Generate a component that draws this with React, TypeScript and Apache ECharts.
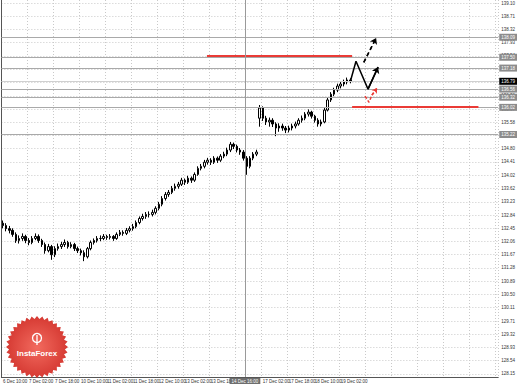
import React, { useEffect, useRef } from 'react';
import * as echarts from 'echarts';

const FONT = 'Liberation Sans';

// x-axis tick labels (every 8th bar)
const timeTickLabels = [
  '6 Dec 10:00', '7 Dec 02:00', '7 Dec 18:00', '10 Dec 10:00', '11 Dec 02:00',
  '11 Dec 18:00', '12 Dec 10:00', '13 Dec 02:00', '13 Dec 18:00', '',
  '17 Dec 02:00', '17 Dec 18:00', '18 Dec 10:00', '19 Dec 02:00',
];
const slotCount = 153;

// y-axis tick labels
const priceTicks = [
  128.15, 128.54, 128.93, 129.32, 129.71, 130.11, 130.5, 130.89, 131.28, 131.67,
  132.06, 132.45, 132.84, 133.23, 133.62, 134.02, 134.41, 134.8, 135.19, 135.58,
  135.97, 136.36, 136.75, 137.15, 137.54, 137.93, 138.32, 138.71, 139.1,
];

const opens = [
  132.60, 132.53, 132.44, 132.39, 132.27, 132.09, 132.15, 132.21, 132.09, 132.03,
  132.15, 132.21, 132.09, 131.97, 131.79, 131.91, 131.67, 131.85, 131.91, 131.97,
  132.03, 131.91, 131.97, 131.85, 131.79, 131.73, 131.61, 131.85, 132.03, 132.09,
  132.15, 132.15, 132.21, 132.18, 132.21, 132.15, 132.27, 132.33, 132.30, 132.39,
  132.44, 132.50, 132.62, 132.74, 132.80, 132.86, 132.86, 132.92, 133.04, 133.16,
  133.33, 133.45, 133.51, 133.63, 133.69, 133.75, 133.87, 133.81, 133.93, 133.87,
  134.04, 134.22, 134.28, 134.40, 134.46, 134.40, 134.52, 134.46, 134.58, 134.64,
  134.76, 134.93, 134.87, 134.76, 134.70, 134.52, 134.28, 134.52, 134.64, 135.70,
  136.00, 135.70, 135.59, 135.64, 135.53, 135.41, 135.47, 135.41, 135.35, 135.41,
  135.47, 135.53, 135.64, 135.70, 135.82, 135.88, 135.76, 135.64, 135.53, 135.59,
  135.94, 136.24, 136.41, 136.53, 136.65, 136.71, 136.77, 136.83,
];
const closes = [
  132.53, 132.44, 132.39, 132.27, 132.09, 132.15, 132.21, 132.09, 132.03, 132.15,
  132.21, 132.09, 131.97, 131.79, 131.91, 131.67, 131.85, 131.91, 131.97, 132.03,
  131.91, 131.97, 131.85, 131.79, 131.73, 131.61, 131.85, 132.03, 132.09, 132.15,
  132.15, 132.21, 132.18, 132.21, 132.15, 132.27, 132.33, 132.30, 132.39, 132.44,
  132.50, 132.62, 132.74, 132.80, 132.86, 132.86, 132.92, 133.04, 133.16, 133.33,
  133.45, 133.51, 133.63, 133.69, 133.75, 133.87, 133.81, 133.93, 133.87, 134.04,
  134.22, 134.28, 134.40, 134.46, 134.40, 134.52, 134.46, 134.58, 134.64, 134.76,
  134.93, 134.87, 134.76, 134.70, 134.52, 134.28, 134.52, 134.64, 134.70, 136.00,
  135.70, 135.59, 135.64, 135.53, 135.41, 135.47, 135.41, 135.35, 135.41, 135.47,
  135.53, 135.64, 135.70, 135.82, 135.88, 135.76, 135.64, 135.53, 135.59, 135.94,
  136.24, 136.41, 136.53, 136.65, 136.71, 136.77, 136.83, 136.80,
];
const lows = [
  132.45, 132.36, 132.30, 132.20, 132.02, 132.00, 132.08, 132.01, 131.95, 131.98,
  132.10, 132.02, 131.90, 131.70, 131.74, 131.52, 131.60, 131.79, 131.84, 131.90,
  131.85, 131.86, 131.78, 131.72, 131.65, 131.48, 131.56, 131.80, 131.97, 132.03,
  132.07, 132.10, 132.11, 132.12, 132.08, 132.11, 132.22, 132.23, 132.25, 132.33,
  132.38, 132.45, 132.57, 132.68, 132.73, 132.77, 132.80, 132.86, 132.98, 133.10,
  133.27, 133.38, 133.46, 133.56, 133.62, 133.70, 133.73, 133.76, 133.79, 133.82,
  134.00, 134.16, 134.22, 134.33, 134.32, 134.35, 134.38, 134.41, 134.52, 134.58,
  134.70, 134.79, 134.69, 134.62, 134.45, 134.03, 134.22, 134.46, 134.58, 135.45,
  135.62, 135.50, 135.45, 135.44, 135.17, 135.30, 135.33, 135.26, 135.28, 135.34,
  135.40, 135.48, 135.57, 135.64, 135.75, 135.69, 135.57, 135.45, 135.46, 135.55,
  135.90, 136.18, 136.35, 136.47, 136.58, 136.64, 136.70, 136.73,
];
const highs = [
  132.68, 132.60, 132.52, 132.45, 132.33, 132.24, 132.30, 132.26, 132.16, 132.22,
  132.30, 132.27, 132.14, 132.03, 131.99, 131.96, 131.92, 132.00, 132.05, 132.12,
  132.08, 132.04, 132.02, 131.91, 131.85, 131.80, 131.90, 132.09, 132.15, 132.22,
  132.24, 132.28, 132.26, 132.28, 132.25, 132.33, 132.40, 132.39, 132.46, 132.51,
  132.58, 132.68, 132.80, 132.88, 132.93, 132.95, 133.00, 133.10, 133.23, 133.40,
  133.52, 133.58, 133.70, 133.77, 133.82, 133.94, 133.92, 134.00, 133.98, 134.10,
  134.28, 134.35, 134.47, 134.53, 134.52, 134.58, 134.57, 134.64, 134.71, 134.83,
  135.00, 134.98, 134.92, 134.82, 134.76, 134.58, 134.58, 134.70, 134.77, 136.09,
  136.05, 135.77, 135.72, 135.70, 135.58, 135.55, 135.54, 135.47, 135.48, 135.54,
  135.60, 135.70, 135.78, 135.88, 135.96, 135.92, 135.80, 135.70, 135.66, 136.00,
  136.30, 136.47, 136.60, 136.72, 136.78, 136.84, 136.90, 136.88,
];

// horizontal levels
const levelPrices = [138.09, 137.5, 137.18, 136.56, 136.32, 136.02, 135.22];
const currentPrice = 136.79;
const redLevelPrices = [137.53, 136.05];
const redLevelStart = [63.3, 108.0];
const redLevelEnd = [108.0, 146.9];
const crosshairX = 75.0;
const crosshairLabel = '14 Dec 16:00';

// forecast sketch (x in bar units, y in price)
const forecastPath = [[107.5, 136.8], [109.2, 137.38], [112.9, 136.56], [116.0, 137.21]];
const altUpPath = [[111.6, 137.35], [115.4, 138.07]];
const redAltPath = [[112.0, 136.35], [113.2, 136.17], [114.1, 136.38], [115.7, 136.59]];

const gridColor = '#c9c9c9';
const LABEL_SIZE = 4.5;

export default function App() {
  const ref = useRef<HTMLDivElement>(null);
  useEffect(() => {
    const chart = echarts.init(ref.current!, null, { renderer: 'svg' });
    const candles = opens.map((o, i) => [o, closes[i], lows[i], highs[i]]);
    const slots = Array.from({ length: slotCount }, (_, i) => String(i));

    const levelLabel = (bg: string) => ({
      show: true,
      position: 'end',
      formatter: (p: any) => Number(p.value).toFixed(2),
      fontSize: LABEL_SIZE,
      fontFamily: FONT,
      color: '#fff',
      backgroundColor: bg,
      padding: [1, 2, 1, 2],
      distance: 1,
    });

    // logo starburst
    const cx = 37, cy = 347, rOut = 31, rIn = 28, spikes = 36;
    const star: number[][] = [];
    for (let i = 0; i < spikes * 2; i++) {
      const r = i % 2 === 0 ? rOut : rIn;
      const a = (Math.PI * i) / spikes;
      star.push([cx + r * Math.cos(a), cy + r * Math.sin(a)]);
    }

    chart.setOption({
      animation: false,
      backgroundColor: '#ffffff',
      textStyle: { fontFamily: FONT },
      grid: { left: 0, right: 18, top: 0, bottom: 7, containLabel: false },
      xAxis: [
        {
          type: 'category',
          data: slots,
          boundaryGap: true,
          axisLine: { show: true, lineStyle: { color: '#555', width: 1 } },
          axisTick: { show: false },
          axisLabel: {
            interval: 7,
            showMinLabel: true,
            fontSize: LABEL_SIZE,
            fontFamily: FONT,
            color: '#333',
            align: 'left',
            margin: 2,
            formatter: (_v: string, idx: number) => (idx % 8 === 0 ? timeTickLabels[idx / 8] ?? '' : ''),
          },
          splitLine: { show: true, interval: 7, lineStyle: { color: gridColor, type: [1, 2], width: 1 } },
        },
        { type: 'value', min: 0, max: slotCount, show: false, splitLine: { show: false } },
      ],
      yAxis: {
        type: 'value',
        position: 'right',
        min: 128.06,
        max: 139.19,
        axisLine: { show: true, lineStyle: { color: '#555', width: 1 } },
        axisTick: { show: false, customValues: priceTicks },
        axisLabel: {
          customValues: priceTicks,
          formatter: (v: number) => v.toFixed(2),
          fontSize: LABEL_SIZE,
          fontFamily: FONT,
          color: '#333',
          margin: 3,
        },
        splitLine: { show: true, lineStyle: { color: gridColor, type: [1, 2], width: 1 } },
      },
      series: [
        {
          type: 'candlestick',
          xAxisIndex: 0,
          yAxisIndex: 0,
          data: candles,
          barWidth: 2,
          itemStyle: { color: '#ffffff', color0: '#000000', borderColor: '#000000', borderColor0: '#000000', borderWidth: 1 },
        },
        {
          type: 'line',
          xAxisIndex: 1,
          yAxisIndex: 0,
          data: forecastPath,
          symbol: 'none',
          lineStyle: { color: '#000', width: 1.5 },
          z: 5,
          markLine: {
            silent: true,
            symbol: ['none', 'none'],
            data: [
              ...levelPrices.map((p) => ({
                yAxis: p,
                lineStyle: { color: '#a9a9a9', width: 1, type: 'solid' },
                label: levelLabel('#8c8c8c'),
              })),
              {
                yAxis: currentPrice,
                lineStyle: { color: '#d0d0d0', width: 1, type: 'solid' },
                label: levelLabel('#000000'),
              },
              ...redLevelPrices.map((p, i) => [
                { coord: [redLevelStart[i], p], lineStyle: { color: '#ea3b36', width: 2, type: 'solid' }, label: { show: false } },
                { coord: [redLevelEnd[i], p] },
              ]),
              {
                xAxis: crosshairX,
                lineStyle: { color: '#9a9a9a', width: 1, type: 'solid' },
                label: {
                  show: true,
                  position: 'start',
                  formatter: crosshairLabel,
                  fontSize: LABEL_SIZE,
                  fontFamily: FONT,
                  color: '#fff',
                  backgroundColor: '#6e6e6e',
                  padding: [1, 2, 1, 2],
                  distance: 1,
                },
              },
              [
                { coord: forecastPath[2], lineStyle: { color: '#000', width: 1.5, type: 'solid' }, label: { show: false }, symbol: 'none' },
                { coord: forecastPath[3], symbol: 'arrow', symbolSize: 6 },
              ],
            ],
          },
        },
        {
          type: 'line',
          xAxisIndex: 1,
          yAxisIndex: 0,
          data: altUpPath,
          symbol: 'none',
          lineStyle: { color: '#000', width: 1.5, type: [4, 3] },
          z: 5,
          markLine: {
            silent: true,
            symbol: ['none', 'arrow'],
            symbolSize: 6,
            label: { show: false },
            lineStyle: { color: '#000', width: 1.5, type: [4, 3] },
            data: [[{ coord: altUpPath[0] }, { coord: altUpPath[1] }]],
          },
        },
        {
          type: 'line',
          xAxisIndex: 1,
          yAxisIndex: 0,
          data: redAltPath,
          symbol: 'none',
          lineStyle: { color: '#ea3b36', width: 1.5, type: [3, 2] },
          z: 5,
          markLine: {
            silent: true,
            symbol: ['none', 'arrow'],
            symbolSize: 5,
            label: { show: false },
            lineStyle: { color: '#ea3b36', width: 1.5, type: [3, 2] },
            data: [[{ coord: redAltPath[2] }, { coord: redAltPath[3] }]],
          },
        },
      ],
      graphic: [
        {
          type: 'polygon',
          shape: { points: star },
          style: {
            fill: new echarts.graphic.RadialGradient(0.5, 0.5, 0.6, [
              { offset: 0, color: '#f26a5e' },
              { offset: 1, color: '#d0302a' },
            ]),
          },
          z: 100,
          silent: true,
        },
        {
          type: 'circle',
          shape: { cx: cx, cy: cy - 9, r: 4.5 },
          style: { fill: 'none', stroke: '#fff', lineWidth: 1.3 },
          z: 101,
          silent: true,
        },
        {
          type: 'line',
          shape: { x1: cx, y1: cy - 12, x2: cx, y2: cy - 2 },
          style: { stroke: '#fff', lineWidth: 1.3 },
          z: 101,
          silent: true,
        },
        {
          type: 'text',
          x: cx,
          y: cy + 6,
          style: { text: 'InstaForex', fill: '#fff', font: `bold 8px "${FONT}"`, align: 'center', verticalAlign: 'middle' },
          z: 101,
          silent: true,
        },
      ],
    });
    return () => chart.dispose();
  }, []);
  return (
    <div
      ref={ref}
      style={{ position: 'absolute', left: 0, top: 0, width: 518, height: 384, background: '#fff' }}
    />
  );
}
